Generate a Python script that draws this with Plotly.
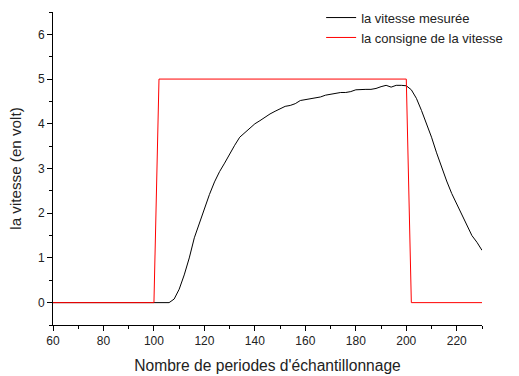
import plotly.graph_objects as go

# Consigne (setpoint)
consigne_x = [60, 100, 102, 200, 202, 230]
consigne_y = [0, 0, 5, 5, 0, 0]

# Vitesse mesurée (measured speed)
mesure_x = [60, 106, 108, 110, 112, 114, 116, 118, 120, 122, 124, 126, 128, 130, 132, 134,
            136, 138, 140, 142, 144, 146, 148, 150, 152, 154, 156, 158, 160, 162, 164, 166,
            168, 170, 172, 174, 176, 178, 180, 182, 184, 186, 188, 190, 192, 194, 196, 198,
            200, 202, 204, 206, 208, 210, 212, 214, 216, 218, 220, 222, 224, 226, 228, 230]
mesure_y = [0, 0, 0.08, 0.3, 0.62, 1.0, 1.45, 1.78, 2.12, 2.42, 2.7, 2.93, 3.12, 3.33, 3.52, 3.7,
            3.8, 3.92, 4.0, 4.07, 4.15, 4.22, 4.28, 4.33, 4.39, 4.41, 4.45, 4.52, 4.54, 4.56, 4.58, 4.6,
            4.64, 4.66, 4.68, 4.7, 4.7, 4.72, 4.76, 4.77, 4.77, 4.77, 4.79, 4.83, 4.86, 4.82, 4.86, 4.86,
            4.85, 4.76, 4.57, 4.3, 4.0, 3.7, 3.35, 3.02, 2.72, 2.44, 2.2, 1.96, 1.72, 1.5, 1.35, 1.17]

fig = go.Figure()
fig.add_trace(go.Scatter(x=mesure_x, y=mesure_y, mode="lines", name="la vitesse mesurée",
                         line=dict(color="black", width=1)))
fig.add_trace(go.Scatter(x=consigne_x, y=consigne_y, mode="lines", name="la consigne de la vitesse",
                         line=dict(color="#ff0000", width=1)))

axis_common = dict(showline=True, linecolor="black", linewidth=1, showgrid=False, zeroline=False,
                   ticks="outside", ticklen=5, tickcolor="black", mirror=False,
                   tickfont=dict(family="Liberation Sans, Arial", size=12, color="#222222"))

fig.update_layout(
    width=519, height=376,
    margin=dict(l=53, r=37, t=12, b=51, autoexpand=False),
    paper_bgcolor="white", plot_bgcolor="white",
    font=dict(family="Liberation Sans, Arial", size=12, color="#222222"),
    xaxis=dict(range=[60, 230], dtick=20, tick0=60,
               minor=dict(dtick=10, ticks="outside", ticklen=3, tickcolor="black"),
               title=dict(text="Nombre de periodes d'échantillonnage", font=dict(size=15.6), standoff=12),
               **axis_common),
    yaxis=dict(range=[-0.5, 6.5], dtick=1, tick0=0,
               minor=dict(dtick=0.5, ticks="outside", ticklen=3, tickcolor="black"),
               title=dict(text="la vitesse (en volt)", font=dict(size=15.2), standoff=12),
               **axis_common),
    legend=dict(x=0.625, y=1.03, xanchor="left", yanchor="top",
                bgcolor="rgba(0,0,0,0)", borderwidth=0, font=dict(size=13),
                tracegroupgap=0, itemwidth=30),
    showlegend=True,
)

fig.write_html("out.html")
